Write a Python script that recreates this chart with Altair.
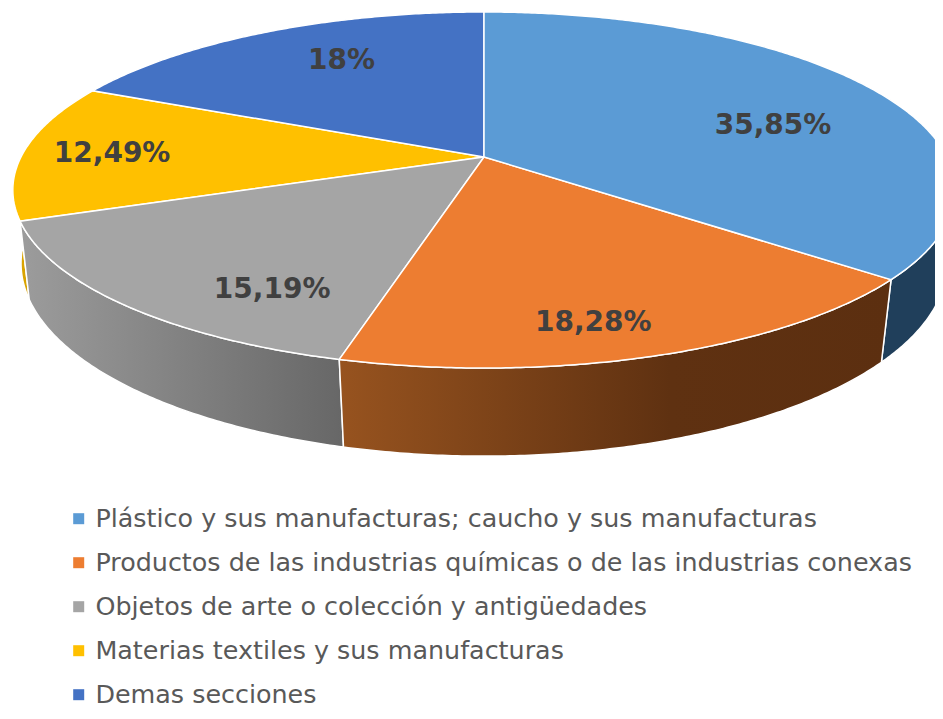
import math
import altair as alt
import pandas as pd

categories = [
    "Plástico y sus manufacturas; caucho y sus manufacturas",
    "Productos de las industrias químicas o de las industrias conexas",
    "Objetos de arte o colección y antigüedades",
    "Materias textiles y sus manufacturas",
    "Demas secciones",
]
shares = [35.85, 18.28, 15.19, 12.49, 18.0]
labels = ["35,85%", "18,28%", "15,19%", "12,49%", "18%"]
colors = ["#5B9BD5", "#ED7D31", "#A5A5A5", "#FFC000", "#4472C4"]

# where each label sits inside its slice: fraction of the radius, turn from the mid-angle
label_radius = [0.672, 0.843, 0.786, 0.806, 0.711]
label_turn = [9.4, 4.3, -11.6, -0.8, 3.9]

# perspective of the tilted disc: top face and bottom face
TOP = dict(cy=157.0, a=171.9, b=463.0, k=0.1854)
BOT = dict(cy=230.0, a=187.0, b=456.0, k=0.173)
CX = 484.0


def disc(theta, f, r=1.0):
    u = r * math.sin(math.radians(theta))
    v = -r * math.cos(math.radians(theta))
    d = 1 - f["k"] * v
    return CX + f["b"] * u / d, f["cy"] + f["a"] * v / d


edges = [0.0]
for s in shares:
    edges.append(edges[-1] + s * 3.6)
edges[-1] = 360.0


def arc(i):
    n = max(2, int((edges[i + 1] - edges[i]) * 2))
    return [edges[i] + (edges[i + 1] - edges[i]) * j / n for j in range(n + 1)]


def wedge(i):
    pts = [(CX, TOP["cy"])] + [disc(t, TOP) for t in arc(i)]
    return pd.DataFrame(
        [{"serie": categories[i], "idx": j, "x": p[0], "y": p[1]} for j, p in enumerate(pts)]
    )


def wall(i):
    ts = arc(i)
    pts = [disc(t, TOP) for t in ts] + [disc(t, BOT) for t in reversed(ts)]
    return pd.DataFrame(
        [{"serie": categories[i], "idx": j, "x": p[0], "y": p[1]} for j, p in enumerate(pts)]
    )


xs = alt.Scale(domain=[8, 935], nice=False, zero=False)
ys = alt.Scale(domain=[711, 8], nice=False, zero=False)
X = alt.X("x:Q", scale=xs, axis=None)
Y = alt.Y("y:Q", scale=ys, axis=None)
ORDER = alt.Order("idx:Q")


def grad(stops):
    return alt.Gradient(
        gradient="linear", x1=0, x2=1, y1=0, y2=0,
        stops=[alt.GradientStop(offset=o, color=c) for o, c in stops],
    )


def wall_layer(i, fill):
    return (
        alt.Chart(wall(i))
        .mark_line(interpolate="linear-closed", fill=fill, stroke="#ffffff", strokeWidth=1.5, clip=True)
        .encode(x=X, y=Y, order=ORDER)
    )


walls = [
    wall_layer(3, "#D9A300"),
    wall_layer(4, "#2F5088"),
    wall_layer(0, "#203F5B"),
    wall_layer(2, grad([(0, "#9C9C9C"), (1, "#676767")])),
    wall_layer(1, grad([(0, "#97531F"), (0.6, "#5F3111"), (1, "#5C2F10")])),
]

tops = [
    alt.Chart(wedge(i))
    .mark_line(interpolate="linear-closed", fill=colors[i], stroke="#ffffff", strokeWidth=1.5, clip=True)
    .encode(x=X, y=Y, order=ORDER)
    for i in [3, 4, 2, 1, 0]
]

lab_rows = []
for i, lab in enumerate(labels):
    mid = (edges[i] + edges[i + 1]) / 2 + label_turn[i]
    px, py = disc(mid, TOP, label_radius[i])
    lab_rows.append({"label": lab, "x": px, "y": py})
text = (
    alt.Chart(pd.DataFrame(lab_rows))
    .mark_text(font="DejaVu Sans", fontWeight="bold", fontSize=28, color="#404040")
    .encode(x=X, y=Y, text="label:N")
)

legend = (
    alt.Chart(pd.DataFrame({"serie": categories, "x": [2000.0] * 5, "y": [400.0] * 5}))
    .mark_square(size=100, opacity=1, clip=True)
    .encode(
        x=X,
        y=Y,
        color=alt.Color(
            "serie:N",
            scale=alt.Scale(domain=categories, range=colors),
            sort=categories,
            legend=alt.Legend(
                title=None,
                orient="none",
                legendX=58,
                legendY=498,
                symbolType="square",
                symbolSize=121,
                symbolStrokeWidth=0,
                symbolOpacity=1,
                labelFont="DejaVu Sans",
                labelFontSize=25.4,
                labelColor="#595959",
                labelLimit=900,
                labelOffset=4,
                rowPadding=17,
                padding=0,
            ),
        ),
    )
)

chart = (
    alt.layer(*walls, *tops, text, legend)
    .properties(
        width=927,
        height=703,
        padding=0,
        background="#ffffff",
        autosize=alt.AutoSizeParams(type="none"),
    )
    .configure_view(stroke=None)
)

chart.save("out.html", embed_options={"renderer": "svg", "actions": False})
